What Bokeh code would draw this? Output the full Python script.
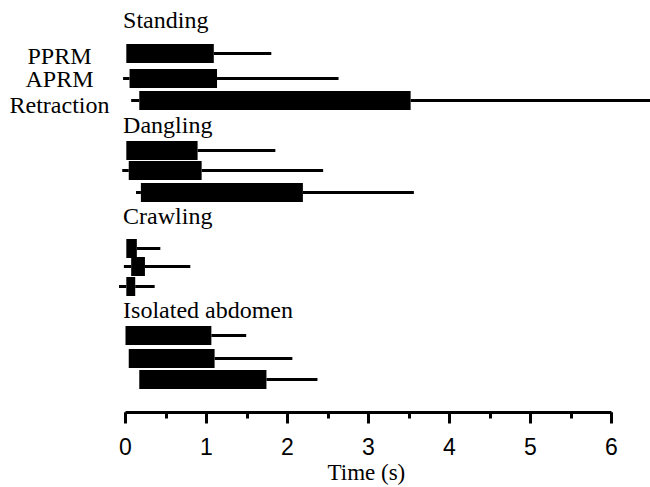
from bokeh.plotting import figure
from bokeh.models import Range1d, SingleIntervalTicker, ColumnDataSource, Title
from bokeh.core.properties import value
from bokeh.embed import file_html
from bokeh.resources import INLINE

# ---- data (seconds) ----
groups = ["Standing", "Dangling", "Crawling", "Isolated abdomen"]
measures = ["PPRM", "APRM", "Retraction"]

standing_lo    = [0.01, -0.03, 0.07]
standing_start = [0.01, 0.05, 0.17]
standing_end   = [1.09, 1.13, 3.52]
standing_hi    = [1.80, 2.63, 6.60]

dangling_lo    = [0.01, -0.04, 0.13]
dangling_start = [0.01, 0.04, 0.19]
dangling_end   = [0.89, 0.94, 2.19]
dangling_hi    = [1.85, 2.44, 3.56]

crawling_lo    = [0.01, -0.02, -0.08]
crawling_start = [0.01, 0.07, 0.01]
crawling_end   = [0.14, 0.24, 0.12]
crawling_hi    = [0.43, 0.80, 0.36]

isolated_lo    = [0.00, 0.04, 0.17]
isolated_start = [0.00, 0.04, 0.17]
isolated_end   = [1.06, 1.10, 1.74]
isolated_hi    = [1.49, 2.06, 2.37]

x_ticks = [0, 1, 2, 3, 4, 5, 6]
x_label = "Time (s)"

# ---- layout (vertical positions, screen-like units) ----
row_y = [[53, 78, 100], [150, 170, 192], [248, 266, 286], [335, 358, 379]]
title_y = [19, 124, 215, 309]
label_y = [55.5, 78.5, 104.5]
bar_h = 19

all_lo = [standing_lo, dangling_lo, crawling_lo, isolated_lo]
all_start = [standing_start, dangling_start, crawling_start, isolated_start]
all_end = [standing_end, dangling_end, crawling_end, isolated_end]
all_hi = [standing_hi, dangling_hi, crawling_hi, isolated_hi]

ys, lo, st, en, hi = [], [], [], [], []
for g in range(len(groups)):
    for r in range(len(measures)):
        ys.append(row_y[g][r])
        lo.append(all_lo[g][r])
        st.append(all_start[g][r])
        en.append(all_end[g][r])
        hi.append(all_hi[g][r])
src = ColumnDataSource(dict(y=ys, lo=lo, st=st, en=en, hi=hi))

px_per_unit = 81.0
x0_px = 125.0
W, H = 650, 487
frame_h = 412

p = figure(width=W, height=H, output_backend="svg", toolbar_location=None,
           x_range=Range1d(-x0_px / px_per_unit, (W - x0_px) / px_per_unit),
           y_range=Range1d(frame_h, 0),
           y_axis_location=None, min_border_left=0, min_border_right=0,
           min_border_top=0, min_border_bottom=H - frame_h)
p.outline_line_color = None
p.grid.visible = False
p.background_fill_color = "white"
p.border_fill_color = "white"

p.segment(x0="lo", y0="y", x1="st", y1="y", source=src, line_color="black", line_width=3)
p.segment(x0="en", y0="y", x1="hi", y1="y", source=src, line_color="black", line_width=3)
p.hbar(y="y", left="st", right="en", height=bar_h, source=src,
       fill_color="black", line_color=None)

serif = value("Liberation Serif")
p.text(x=[-0.03] * len(groups), y=title_y, text=groups, text_font=serif,
       text_font_size="24px", text_align="left", text_baseline="alphabetic",
       text_color="black")
p.text(x=[-0.815] * len(measures), y=label_y, text=measures, text_font=serif,
       text_font_size="24px", text_align="center", text_baseline="alphabetic",
       text_color="black")

ax = p.xaxis[0]
ax.ticker = SingleIntervalTicker(interval=1, num_minor_ticks=2)
ax.bounds = (x_ticks[0], x_ticks[-1])
ax.axis_line_width = 3
ax.axis_line_color = "black"
ax.major_tick_line_width = 3
ax.minor_tick_line_width = 3
ax.major_tick_in = 0
ax.major_tick_out = 11
ax.minor_tick_in = 0
ax.minor_tick_out = 6
ax.major_label_text_font = "Liberation Sans"
ax.major_label_text_font_size = "23px"
ax.major_label_text_color = "black"
ax.major_label_standoff = 14

xt = Title(text=x_label, align="left", offset=327, standoff=0,
           text_font="Liberation Serif", text_font_size="23px",
           text_font_style="normal", text_color="black")
p.add_layout(xt, "below")

open("out.html", "w").write(file_html(p, INLINE))
